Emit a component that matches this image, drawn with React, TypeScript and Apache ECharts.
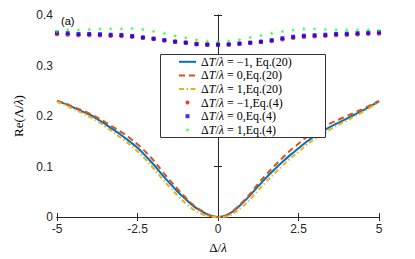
import React, { useEffect, useRef } from "react";
import * as echarts from "echarts";

const xTicks = [-5, -2.5, 0, 2.5, 5];
const yTicks = [0, 0.1, 0.2, 0.3, 0.4];

const xCurve = [-5, -4.75, -4.5, -4.25, -4, -3.75, -3.5, -3.25, -3, -2.75, -2.5, -2.25, -2, -1.75, -1.5, -1.25, -1, -0.75, -0.5, -0.25, 0,
  0.25, 0.5, 0.75, 1, 1.25, 1.5, 1.75, 2, 2.25, 2.5, 2.75, 3, 3.25, 3.5, 3.75, 4, 4.25, 4.5, 4.75, 5];

const curveM1 = [0.230, 0.224, 0.217, 0.210, 0.203, 0.194, 0.184, 0.173, 0.162, 0.150, 0.137, 0.121, 0.104, 0.085, 0.067, 0.050, 0.035, 0.021, 0.011, 0.003, 0,
  0.003, 0.013, 0.027, 0.043, 0.061, 0.078, 0.094, 0.109, 0.123, 0.136, 0.149, 0.160, 0.170, 0.179, 0.187, 0.195, 0.203, 0.211, 0.220, 0.229];
const curve0 = [0.230, 0.225, 0.218, 0.212, 0.205, 0.197, 0.188, 0.178, 0.168, 0.157, 0.144, 0.129, 0.112, 0.092, 0.073, 0.055, 0.038, 0.023, 0.012, 0.003, 0,
  0.003, 0.014, 0.029, 0.046, 0.066, 0.084, 0.101, 0.117, 0.132, 0.145, 0.158, 0.169, 0.178, 0.186, 0.193, 0.200, 0.207, 0.214, 0.222, 0.230];
const curveP1 = [0.228, 0.222, 0.214, 0.207, 0.199, 0.190, 0.179, 0.168, 0.156, 0.144, 0.130, 0.114, 0.096, 0.077, 0.059, 0.042, 0.027, 0.014, 0.006, 0.001, 0,
  0.001, 0.008, 0.020, 0.035, 0.053, 0.070, 0.086, 0.101, 0.116, 0.129, 0.143, 0.154, 0.165, 0.174, 0.183, 0.191, 0.200, 0.208, 0.218, 0.227];

const xDots = [-5, -4.667, -4.333, -4, -3.667, -3.333, -3, -2.667, -2.333, -2, -1.667, -1.333, -1, -0.667, -0.333, 0,
  0.333, 0.667, 1, 1.333, 1.667, 2, 2.333, 2.667, 3, 3.333, 3.667, 4, 4.333, 4.667, 5];
const dotsM1 = [0.3625, 0.3615, 0.3605, 0.3605, 0.360, 0.359, 0.3585, 0.357, 0.355, 0.353, 0.350, 0.3475, 0.3455, 0.343, 0.342, 0.342,
  0.342, 0.343, 0.345, 0.347, 0.349, 0.352, 0.355, 0.357, 0.358, 0.359, 0.3605, 0.361, 0.362, 0.363, 0.3635];
const dots0 = [0.365, 0.364, 0.3625, 0.3625, 0.362, 0.361, 0.3606, 0.3585, 0.3556, 0.353, 0.350, 0.347, 0.345, 0.342, 0.341, 0.341,
  0.3415, 0.3434, 0.345, 0.347, 0.350, 0.354, 0.357, 0.359, 0.360, 0.361, 0.3625, 0.363, 0.364, 0.365, 0.366];
const dotsP1 = [0.367, 0.371, 0.371, 0.372, 0.373, 0.373, 0.373, 0.374, 0.372, 0.368, 0.364, 0.359, 0.355, 0.351, 0.348, 0.348,
  0.3486, 0.351, 0.356, 0.360, 0.364, 0.368, 0.371, 0.373, 0.373, 0.372, 0.371, 0.371, 0.371, 0.371, 0.370];

const names = [
  "ΔT/λ = −1, Eq.(20)",
  "ΔT/λ = 0,Eq.(20)",
  "ΔT/λ = 1,Eq.(20)",
  "ΔT/λ = −1,Eq.(4)",
  "ΔT/λ = 0,Eq.(4)",
  "ΔT/λ = 1,Eq.(4)",
];

const STAR = "path://M0,-1L0.2245,-0.309L0.951,-0.309L0.363,0.118L0.588,0.809L0,0.382L-0.588,0.809L-0.363,0.118L-0.951,-0.309L-0.2245,-0.309Z";
const SQUARE = "path://M0,0L1,0L1,1L0,1Z";

const zip = (xs: number[], ys: number[]) => xs.map((x, i) => [x, ys[i]]);

export default function App() {
  const ref = useRef<HTMLDivElement>(null);
  useEffect(() => {
    if (!ref.current) return;
    const chart = echarts.init(ref.current, undefined, { renderer: "svg" });
    const axisColor = "#262626";
    const serif = "Liberation Serif";
    const sans = "Liberation Sans";
    const rich = {
      r: { fontFamily: serif, fontSize: 12, color: "#000" },
      i: { fontFamily: serif, fontSize: 12, fontStyle: "italic", color: "#000" },
    };
    chart.setOption({
      animation: false,
      backgroundColor: "#fff",
      grid: { left: 57, right: 36, top: 15, bottom: 34 },
      graphic: [
        {
          type: "text",
          left: 61,
          top: 15,
          z: 10,
          style: { text: "(a)", font: "11px Liberation Sans", fill: "#000" },
        },
        {
          type: "rect",
          z: 9,
          shape: { x: 160.5, y: 54.5, width: 165, height: 83 },
          style: { fill: "#fff", stroke: "#333", lineWidth: 1 },
        },
      ],
      legend: {
        orient: "vertical",
        left: 160,
        top: 55,
        padding: [0, 0, 0, 18],
        itemWidth: 17,
        itemHeight: 4,
        itemGap: 0,
        z: 10,
        data: names.map((n, i) =>
          i < 3
            ? { name: n, itemStyle: { opacity: 0 } }
            : { name: n, icon: i === 3 ? "circle" : i === 4 ? SQUARE : STAR }
        ),
        textStyle: { fontFamily: serif, fontSize: 12, color: "#000", lineHeight: 13.6, rich },
        formatter: (n: string) => {
          const rest = n.replace("ΔT/λ", "");
          return "{r|Δ}{i|T}{r|/}{i|λ}{r|" + rest + "}";
        },
      },
      xAxis: [
        {
          type: "value",
          min: -5,
          max: 5,
          interval: 2.5,
          position: "bottom",
          name: "{r|Δ/}{i|λ}",
          nameLocation: "middle",
          nameGap: 24,
          nameTextStyle: { rich: { r: { ...rich.r, fontSize: 13 }, i: { ...rich.i, fontSize: 13 } } },
          axisLine: { lineStyle: { color: axisColor, width: 1 } },
          axisTick: { inside: true, length: 4, lineStyle: { color: axisColor } },
          axisLabel: { color: axisColor, fontFamily: sans, fontSize: 12, margin: 6, formatter: (v: number) => String(v) },
          splitLine: { show: false },
        },
        {
          type: "value",
          min: -5,
          max: 5,
          interval: 2.5,
          position: "top",
          axisLine: { lineStyle: { color: axisColor, width: 1 } },
          axisTick: { inside: true, length: 4, lineStyle: { color: axisColor } },
          axisLabel: { show: false },
          splitLine: { show: false },
        },
      ],
      yAxis: [
        {
          type: "value",
          min: 0,
          max: 0.4,
          interval: 0.1,
          position: "left",
          name: "{r|Re(Λ/}{i|λ}{r|)}",
          nameLocation: "middle",
          nameGap: 31,
          nameTextStyle: { rich: { r: { ...rich.r, fontSize: 13 }, i: { ...rich.i, fontSize: 13 } } },
          axisLine: { show: true, lineStyle: { color: axisColor, width: 1 } },
          axisTick: { show: true, inside: true, length: 4, lineStyle: { color: axisColor } },
          axisLabel: { color: axisColor, fontFamily: sans, fontSize: 12, margin: 4, formatter: (v: number) => (v === 0 ? "0" : v.toFixed(1)) },
          splitLine: { show: false },
        },
        {
          type: "value",
          min: 0,
          max: 0.4,
          interval: 0.1,
          position: "right",
          axisLine: { show: true, lineStyle: { color: axisColor, width: 1 } },
          axisTick: { show: true, inside: true, length: 4, lineStyle: { color: axisColor } },
          axisLabel: { show: false },
          splitLine: { show: false },
        },
      ],
      series: [
        {
          name: names[0],
          type: "line",
          data: zip(xCurve, curveM1),
          smooth: true,
          symbol: "none",
          lineStyle: { color: "#0072BD", width: 2 },
          itemStyle: { color: "#0072BD" },
          z: 3,
        },
        {
          name: names[1],
          type: "line",
          data: zip(xCurve, curve0),
          smooth: true,
          symbol: "none",
          lineStyle: { color: "#D95319", width: 2, type: [6, 4] },
          itemStyle: { color: "#D95319" },
          z: 4,
        },
        {
          name: names[2],
          type: "line",
          data: zip(xCurve, curveP1),
          smooth: true,
          symbol: "none",
          lineStyle: { color: "#EDB120", width: 2, type: [5, 2.5, 1.5, 2.5] },
          itemStyle: { color: "#EDB120" },
          z: 5,
        },
        {
          name: names[3],
          type: "scatter",
          data: zip(xDots, dotsM1),
          symbol: "circle",
          symbolSize: 4.5,
          itemStyle: { color: "#FF0000" },
          z: 3,
        },
        {
          name: names[4],
          type: "scatter",
          data: zip(xDots, dots0),
          symbol: "rect",
          symbolSize: 4,
          itemStyle: { color: "#0000FF" },
          z: 4,
        },
        {
          name: names[5],
          type: "scatter",
          data: zip(xDots, dotsP1),
          symbol: STAR,
          symbolSize: 4,
          itemStyle: { color: "#00FF00" },
          z: 5,
        },
      ],
    });
    return () => chart.dispose();
  }, []);
  return <div ref={ref} style={{ position: "fixed", left: 0, top: 0, width: 415, height: 259 }} />;
}
